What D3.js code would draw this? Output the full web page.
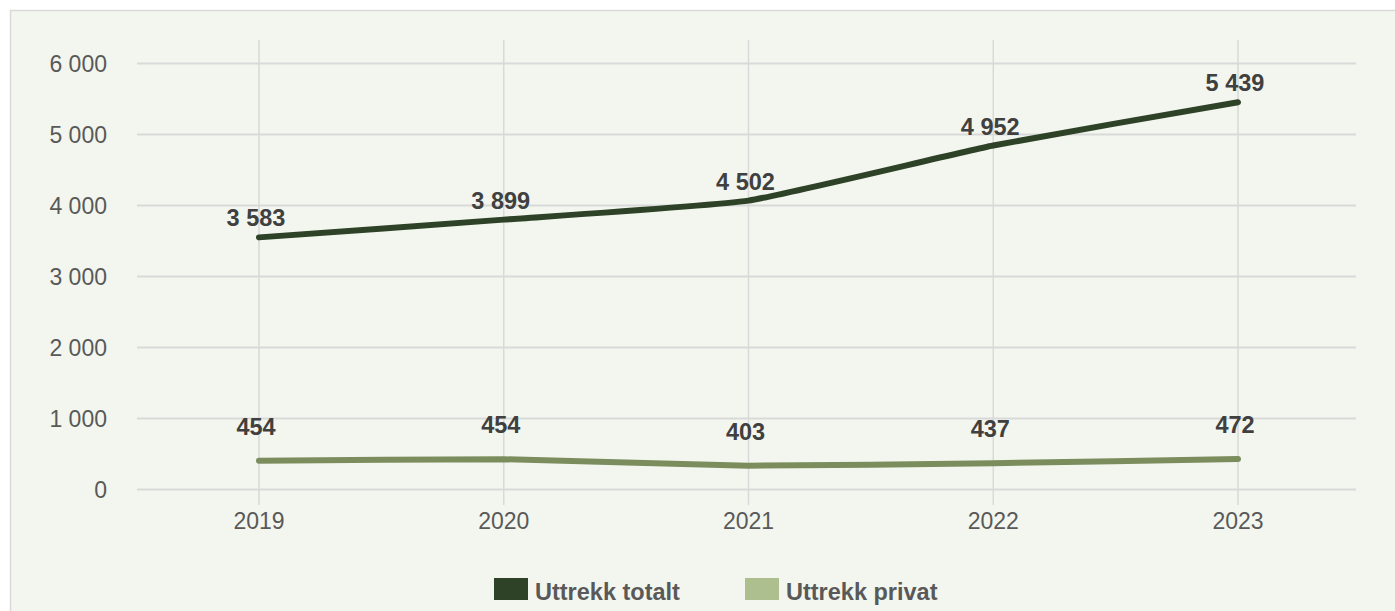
<!DOCTYPE html>
<html>
<head>
<meta charset="utf-8">
<script src="https://cdn.jsdelivr.net/npm/d3@7"></script>
<style>
  html, body { margin: 0; padding: 0; background: #ffffff; }
  svg { display: block; font-family: "Liberation Sans", Arial, sans-serif; }
</style>
</head>
<body>
<svg id="chart" width="1395" height="611"></svg>
<script>
// ---- data ----
const years = ["2019", "2020", "2021", "2022", "2023"];
const totaltLine = [3551, 3801, 4069, 4845, 5455];
const privatLine = [406, 426, 336, 370, 430];
const totaltLabels = [3583, 3899, 4502, 4952, 5439];
const privatLabels = [454, 454, 403, 437, 472];
const yTicks = [0, 1000, 2000, 3000, 4000, 5000, 6000];
const seriesNames = ["Uttrekk totalt", "Uttrekk privat"];

// ---- layout / styles ----
const svg = d3.select("#chart");
const nb = d3.formatLocale({ decimal: ",", thousands: " ", grouping: [3] }).format(",d");

svg.append("rect")
  .attr("x", 10.5).attr("y", 10.5).attr("width", 1400).attr("height", 620)
  .attr("fill", "#f3f6ee").attr("stroke", "#d9d9d9").attr("stroke-width", 1.5);

const x = d3.scalePoint().domain(years).range([259, 1238]);
const y = d3.scaleLinear().domain([0, 6000]).range([489.5, 63.5]);

// horizontal gridlines
svg.append("g").selectAll("line").data(yTicks).join("line")
  .attr("x1", 137).attr("x2", 1356)
  .attr("y1", d => y(d)).attr("y2", d => y(d))
  .attr("stroke", "#d9d9d9").attr("stroke-width", 2);

// vertical gridlines
svg.append("g").selectAll("line").data(years).join("line")
  .attr("x1", d => x(d)).attr("x2", d => x(d))
  .attr("y1", 40).attr("y2", 505)
  .attr("stroke", "#d9d9d9").attr("stroke-width", 1.5);

// y axis labels
svg.append("g").selectAll("text").data(yTicks).join("text")
  .attr("x", 107).attr("y", d => y(d) + 8)
  .attr("text-anchor", "end")
  .attr("font-size", 23).attr("fill", "#595959")
  .text(d => nb(d));

// x axis labels
svg.append("g").selectAll("text").data(years).join("text")
  .attr("x", d => x(d)).attr("y", 529)
  .attr("text-anchor", "middle")
  .attr("font-size", 23).attr("fill", "#595959")
  .text(d => d);

const line = d3.line()
  .x((d, i) => x(years[i]))
  .y(d => y(d))
  .curve(d3.curveCardinal.tension(0.6));

svg.append("path").datum(privatLine)
  .attr("d", line).attr("fill", "none")
  .attr("stroke", "#7b8d5d").attr("stroke-width", 6)
  .attr("stroke-linecap", "round").attr("stroke-linejoin", "round");

svg.append("path").datum(totaltLine)
  .attr("d", line).attr("fill", "none")
  .attr("stroke", "#2e4227").attr("stroke-width", 6)
  .attr("stroke-linecap", "round").attr("stroke-linejoin", "round");

// data labels
svg.append("g").selectAll("text").data(totaltLabels).join("text")
  .attr("x", (d, i) => x(years[i]) - 3)
  .attr("y", (d, i) => y(totaltLine[i]) - 11)
  .attr("text-anchor", "middle")
  .attr("font-size", 23.5).attr("font-weight", "bold").attr("fill", "#404040")
  .text(d => nb(d));

svg.append("g").selectAll("text").data(privatLabels).join("text")
  .attr("x", (d, i) => x(years[i]) - 3)
  .attr("y", (d, i) => y(privatLine[i]) - 26)
  .attr("text-anchor", "middle")
  .attr("font-size", 23.5).attr("font-weight", "bold").attr("fill", "#404040")
  .text(d => nb(d));

// legend
const legendColors = ["#2e4227", "#adbf8f"];
const legendX = [494, 745];
const lg = svg.append("g").selectAll("g").data(seriesNames).join("g")
  .attr("transform", (d, i) => `translate(${legendX[i]},578)`);
lg.append("rect").attr("width", 34).attr("height", 22)
  .attr("fill", (d, i) => legendColors[i]);
lg.append("text").attr("x", 41).attr("y", 22)
  .attr("font-size", 23.5).attr("font-weight", "bold").attr("fill", "#595959")
  .text(d => d);
</script>
</body>
</html>
